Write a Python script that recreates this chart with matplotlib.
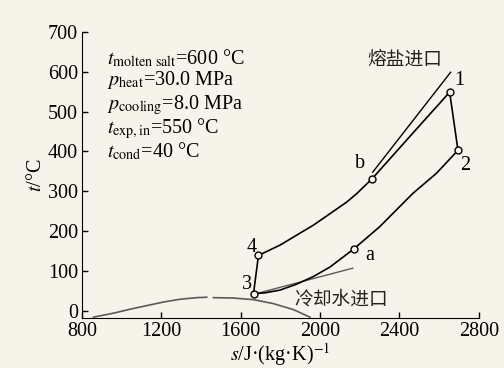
import matplotlib
matplotlib.use("Agg")
import matplotlib.pyplot as plt

plt.rcParams['font.family'] = ['Liberation Serif', 'DejaVu Serif']
plt.rcParams['mathtext.fontset'] = 'stix'

# cycle points (s in J/(kg K), t in degC)
pt_s = {'1': 2653, '2': 2695, '3': 1664, '4': 1689, 'a': 2169, 'b': 2261}
pt_t = {'1': 549, '2': 403, '3': 43, '4': 139, 'a': 155, 'b': 331}

# heating curve 4 -> b -> 1
heat_s = [1689, 1798, 1882, 1966, 2050, 2134, 2184, 2261, 2451, 2653]
heat_t = [139, 165, 190, 215, 244, 273, 294, 331, 437, 549]

# cooling curve 2 -> a -> 3
cool_s = [2695, 2586, 2468, 2300, 2169, 2050, 1966, 1882, 1798, 1720, 1664]
cool_t = [403, 345, 295, 211, 155, 110, 86, 67, 52, 45, 43]

# molten salt and cooling water lines
salt_s = [2265, 2658]
salt_t = [348, 599]
water_s = [1677, 2165]
water_t = [43, 107]

# saturation dome (two parts, broken at the top)
dome1_s = [857, 958, 1042, 1126, 1210, 1294, 1378, 1428]
dome1_t = [-16, -6, 4, 13, 22, 29, 33, 34]
dome2_s = [1462, 1562, 1663, 1764, 1865, 1949]
dome2_t = [33, 32, 28, 18, 3, -16]

bg = '#f6f4ea'
fig = plt.figure(figsize=(5.04, 3.68), dpi=100, facecolor=bg)
ax = fig.add_axes([0.163, 0.136, 0.787, 0.777], facecolor=bg)

gray = '#5a5a5a'
ax.plot(dome1_s, dome1_t, color=gray, lw=1.2)
ax.plot(dome2_s, dome2_t, color=gray, lw=1.2)
ax.plot(water_s, water_t, color=gray, lw=1.0)

ax.plot(heat_s, heat_t, color='black', lw=1.2)
ax.plot(cool_s, cool_t, color='black', lw=1.2)
ax.plot([pt_s['1'], pt_s['2']], [pt_t['1'], pt_t['2']], color='black', lw=1.2)
ax.plot([pt_s['3'], pt_s['4']], [pt_t['3'], pt_t['4']], color='black', lw=1.2)
ax.plot(salt_s, salt_t, color='black', lw=1.0)

for k in pt_s:
    ax.plot(pt_s[k], pt_t[k], 'o', ms=5, mfc=bg, mec='black', mew=1.0)

fs = 14.5
lab_pos = {'1': (2704, 578), '2': (2729, 365), 'b': (2200, 370),
           '4': (1655, 158), '3': (1630, 65), 'a': (2251, 140)}
for k, (x, y) in lab_pos.items():
    ax.text(x, y, k, fontsize=fs, ha='center', va='center')

cjk = ['Noto Sans CJK SC', 'DejaVu Sans']
ax.text(2427, 633, '熔盐进口', family=cjk, fontsize=13.5, ha='center', va='center', color='#222222')
ax.text(2108, 30, '冷却水进口', family=cjk, fontsize=13.5, ha='center', va='center', color='#222222')

notes = [r'$t_{\rm molten\ salt}$=600 °C',
         r'$p_{\rm heat}$=30.0 MPa',
         r'$p_{\rm cooling}$=8.0 MPa',
         r'$t_{\rm exp,in}$=550 °C',
         r'$t_{\rm cond}$=40 °C']
note_y = [619, 566, 507, 445, 385]
for s, y in zip(notes, note_y):
    ax.text(926, y, s, fontsize=fs, ha='left', va='baseline')

ax.set_xlim(800, 2800)
ax.set_ylim(-18, 700)
ax.set_xticks([800, 1200, 1600, 2000, 2400, 2800])
ax.set_yticks([0, 100, 200, 300, 400, 500, 600, 700])
ax.spines['top'].set_visible(False)
ax.spines['right'].set_visible(False)
ax.tick_params(direction='in', length=4, width=1, labelsize=fs, pad=3)
ax.set_xlabel(r'$s$/J·(kg·K)$^{-1}$', fontsize=fs, labelpad=0)
ax.set_ylabel(r'$t$/°C', fontsize=fs, labelpad=1)

fig.savefig('out.png', dpi=100, facecolor=bg)
